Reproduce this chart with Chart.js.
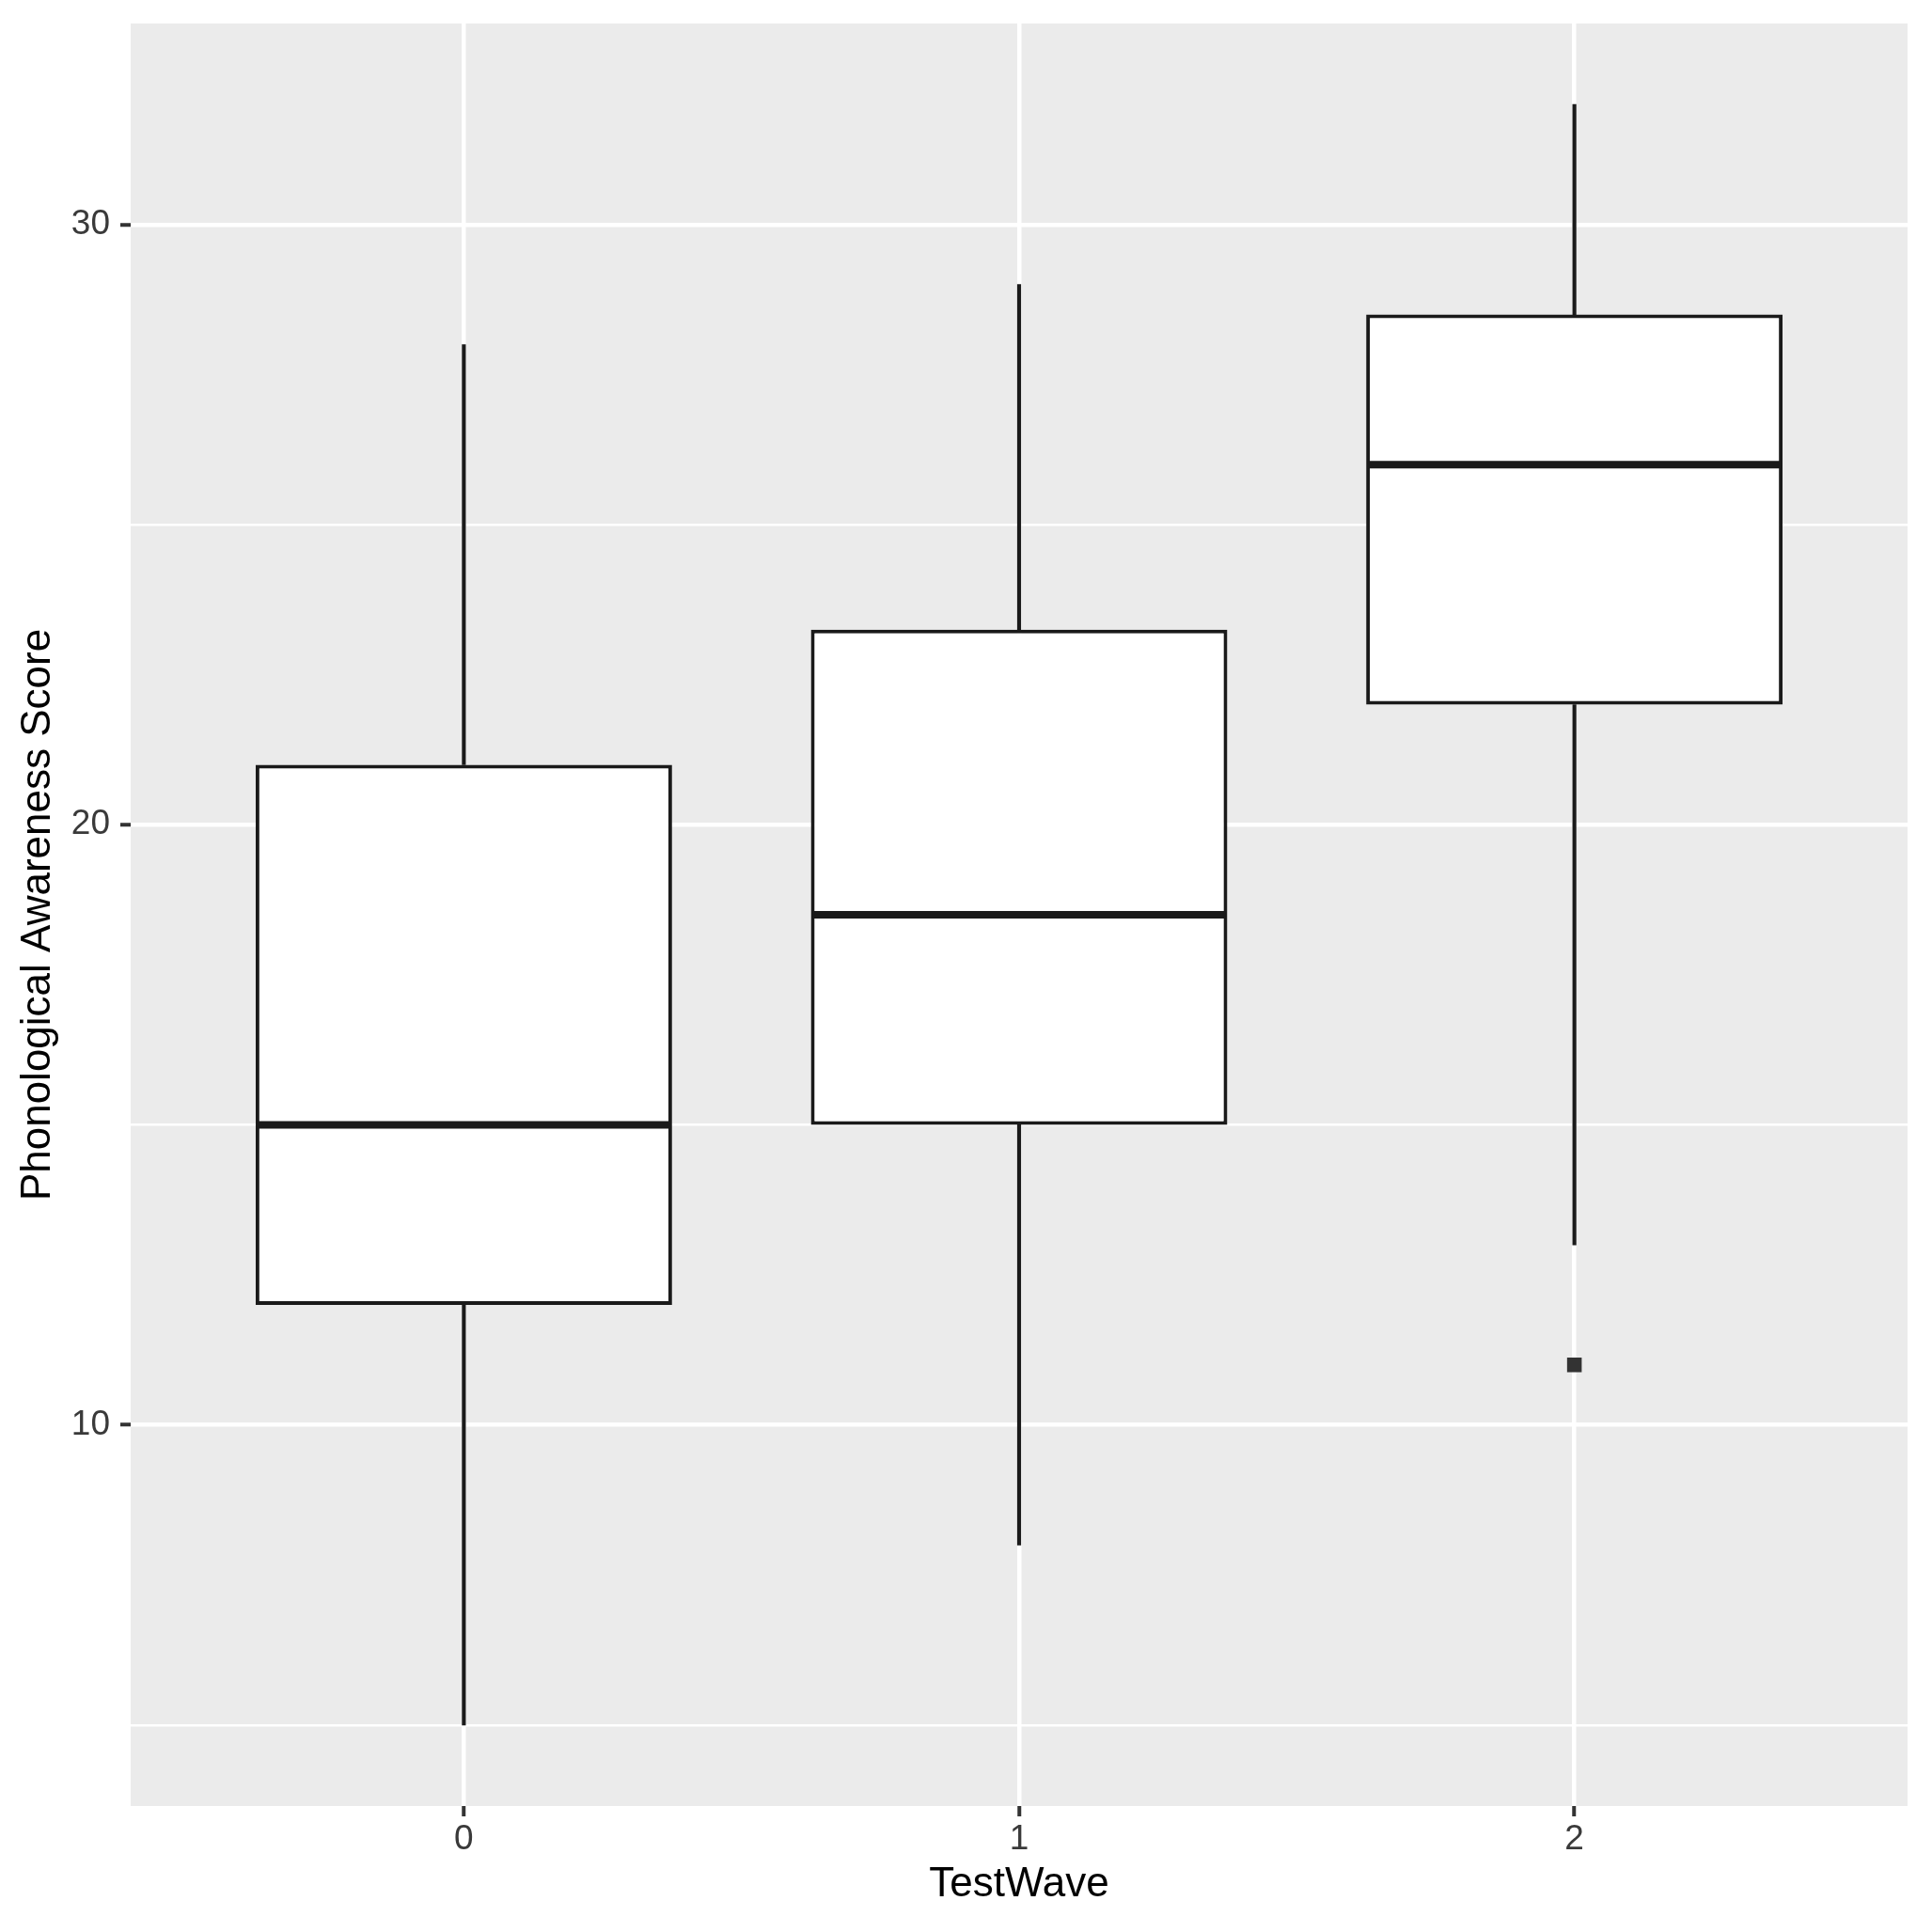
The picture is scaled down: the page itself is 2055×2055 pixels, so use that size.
<!DOCTYPE html>
<html>
<head>
<meta charset="utf-8">
<script src="https://cdn.jsdelivr.net/npm/chart.js@4"></script>
<style>
  html, body { margin: 0; padding: 0; background: #ffffff; }
  canvas { display: block; }
</style>
</head>
<body>
<canvas id="chart" width="2055" height="2055"></canvas>
<script>
// box plot values per test wave
const waves = ["0", "1", "2"];
const whiskerLow = [5, 8, 13];
const q1 = [12, 15, 22];
const median = [15, 18.5, 26];
const q3 = [21, 23.25, 28.5];
const whiskerHigh = [28, 29, 32];
const outliers = [{ wave: 2, score: 11 }];
const yTicks = [5, 10, 15, 20, 25, 30];

const ink = "#1A1A1A";

// ggplot style range: data range plus 5% each side
const allVals = whiskerLow.concat(whiskerHigh, outliers.map(o => o.score));
const lo = Math.min(...allVals), hi = Math.max(...allVals);
const pad = (hi - lo) * 0.05;

const panelBg = {
  id: "panelBg",
  beforeDraw(chart) {
    const { ctx, chartArea: a } = chart;
    ctx.save();
    ctx.fillStyle = "#ffffff";
    ctx.fillRect(0, 0, chart.width, chart.height);
    ctx.fillStyle = "#EBEBEB";
    ctx.fillRect(a.left, a.top, a.right - a.left, a.bottom - a.top);
    ctx.restore();
  }
};

// median lines across each box, placed with the chart scales
const medianLines = {
  id: "medianLines",
  afterDatasetsDraw(chart) {
    const { ctx, scales } = chart;
    const boxes = chart.getDatasetMeta(2).data;
    ctx.save();
    ctx.strokeStyle = ink;
    ctx.lineWidth = 8;
    median.forEach((m, i) => {
      const bar = boxes[i];
      const half = bar.width / 2;
      const y = scales.y.getPixelForValue(m);
      ctx.beginPath();
      ctx.moveTo(bar.x - half + 2, y);
      ctx.lineTo(bar.x + half - 2, y);
      ctx.stroke();
    });
    ctx.restore();
  }
};

const isMajor = v => v % 10 === 0;

// keep tick labels from pushing the plot panel inwards
const noPad = s => { s.paddingTop = 0; s.paddingBottom = 0; s.paddingLeft = 0; s.paddingRight = 0; };

new Chart(document.getElementById("chart"), {
  data: {
    datasets: [
      {
        type: "bar",
        data: waves.map((w, i) => ({ x: i, y: [whiskerLow[i], q1[i]] })),
        backgroundColor: ink,
        barThickness: 3.5,
        grouped: false,
        order: 3
      },
      {
        type: "bar",
        data: waves.map((w, i) => ({ x: i, y: [q3[i], whiskerHigh[i]] })),
        backgroundColor: ink,
        barThickness: 3.5,
        grouped: false,
        order: 3
      },
      {
        type: "bar",
        data: waves.map((w, i) => ({ x: i, y: [q1[i], q3[i]] })),
        backgroundColor: "#ffffff",
        borderColor: ink,
        borderWidth: 4,
        borderSkipped: false,
        barPercentage: 0.75,
        categoryPercentage: 1,
        grouped: false,
        order: 2
      },
      {
        type: "scatter",
        data: outliers.map(o => ({ x: o.wave, y: o.score })),
        pointStyle: "rect",
        radius: 11,
        backgroundColor: "#333333",
        borderColor: "#333333",
        borderWidth: 0,
        order: 1
      }
    ]
  },
  options: {
    responsive: false,
    devicePixelRatio: 1,
    animation: false,
    layout: { padding: { top: 25, right: 26, left: 0, bottom: 0 } },
    plugins: { legend: { display: false }, tooltip: { enabled: false } },
    scales: {
      x: {
        type: "linear",
        offset: false,
        min: -0.6,
        max: waves.length - 1 + 0.6,
        afterBuildTicks: s => { s.ticks = waves.map((w, i) => ({ value: i })); },
        afterFit: s => { s.height = 134; noPad(s); },
        border: { display: false },
        grid: {
          offset: false,
          color: "#ffffff",
          lineWidth: 4.5,
          tickLength: 11,
          tickWidth: 4,
          tickColor: "#333333"
        },
        ticks: {
          autoSkip: false,
          padding: 3,
          color: "#3A3A3A",
          font: { family: "Liberation Sans", size: 37 },
          callback: v => waves[v]
        },
        title: {
          display: true,
          text: "TestWave",
          color: "#000000",
          font: { family: "Liberation Sans", size: 44 },
          padding: { top: 0, bottom: 24 }
        }
      },
      y: {
        min: lo - pad,
        max: hi + pad,
        afterBuildTicks: s => { s.ticks = yTicks.map(v => ({ value: v })); },
        afterFit: s => { s.width = 139; noPad(s); },
        border: { display: false },
        grid: {
          color: "#ffffff",
          lineWidth: c => (c.tick && isMajor(c.tick.value) ? 4.5 : 2.5),
          tickLength: 11,
          tickWidth: 4,
          tickColor: c => (c.tick && isMajor(c.tick.value) ? "#333333" : "rgba(0,0,0,0)")
        },
        ticks: {
          autoSkip: false,
          padding: 11,
          color: "#3A3A3A",
          font: { family: "Liberation Sans", size: 37 },
          callback: v => (isMajor(v) ? String(v) : "")
        },
        title: {
          display: true,
          text: "Phonological Awareness Score",
          color: "#000000",
          font: { family: "Liberation Sans", size: 44 },
          padding: { top: 14, bottom: 0 }
        }
      }
    }
  },
  plugins: [panelBg, medianLines]
});
</script>
</body>
</html>
